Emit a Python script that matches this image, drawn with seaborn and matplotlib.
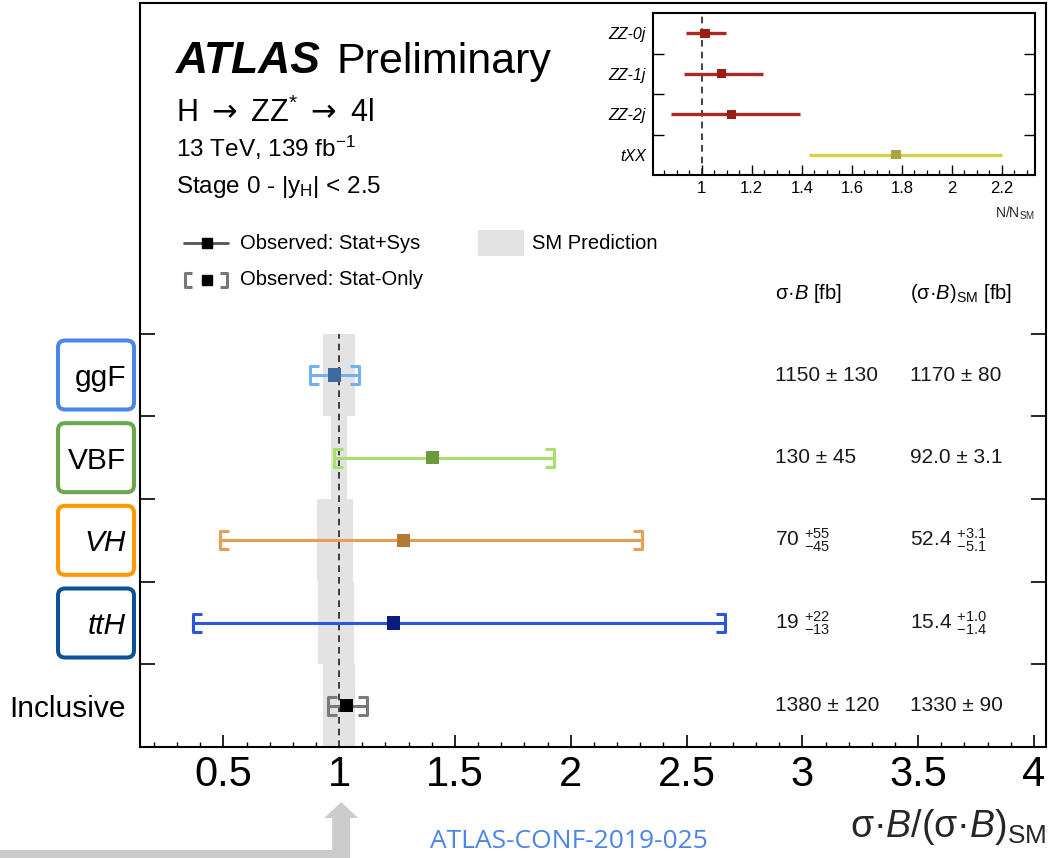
import numpy as np
import pandas as pd
import matplotlib
matplotlib.use("Agg")
import matplotlib.pyplot as plt
import seaborn as sns
from matplotlib.path import Path
from matplotlib.patches import FancyBboxPatch, Polygon, Rectangle
from matplotlib.transforms import IdentityTransform
from matplotlib.ticker import MultipleLocator, FuncFormatter

# ---------------- data ----------------
categories = ["ggF", "VBF", "VH", "ttH", "Inclusive"]
ypos = [4.5, 3.5, 2.5, 1.5, 0.5]

# measured sigma*B / (sigma*B)_SM and its uncertainties
ratio = [0.979, 1.404, 1.277, 1.234, 1.033]
tot_lo = [0.872, 0.976, 0.484, 0.369, 0.950]
tot_hi = [1.088, 1.930, 2.310, 2.670, 1.121]
stat_lo = [0.874, 0.978, 0.486, 0.371, 0.952]
stat_hi = [1.086, 1.926, 2.307, 2.666, 1.119]

# table values [fb]
obs_val = [1150, 130, 70, 19, 1380]
obs_up = [130, 45, 55, 22, 120]
obs_dn = [130, 45, 45, 13, 120]
obs_dec = [0, 0, 0, 0, 0]
sm_val = [1170, 92.0, 52.4, 15.4, 1330]
sm_up = [80, 3.1, 3.1, 1.0, 90]
sm_dn = [80, 3.1, 5.1, 1.4, 90]
sm_dec = [0, 1, 1, 1, 0]

# inset: normalisation factors
inset_cats = ["ZZ-0j", "ZZ-1j", "ZZ-2j", "tXX"]
inset_ypos = [3.5, 2.5, 1.5, 0.5]
inset_val = [1.013, 1.080, 1.120, 1.777]
inset_lo = [0.935, 0.930, 0.875, 1.430]
inset_hi = [1.097, 1.245, 1.393, 2.200]

# ---------------- style ----------------
line_colors = ["#72b0f2", "#a9e06a", "#e5a052", "#2b56e0", "#7a7a7a"]
marker_colors = ["#3d6a9c", "#6b9a3c", "#b27b33", "#0c1c7e", "#000000"]
box_colors = ["#4a86e8", "#6aa84f", "#ff9900", "#0b5394"]
inset_line_colors = ["#ad2a20", "#ad2a20", "#ad2a20", "#d8d146"]
inset_marker_colors = ["#9a1c14", "#9a1c14", "#9a1c14", "#aaa440"]

sns.set_theme(style="ticks")
plt.rcParams.update({
    "font.family": ["Liberation Sans", "DejaVu Sans"],
    "mathtext.fontset": "custom",
    "mathtext.rm": "Liberation Sans",
    "mathtext.it": "Liberation Sans:italic",
    "mathtext.bf": "Liberation Sans:bold",
    "mathtext.sf": "DejaVu Sans",
    "axes.linewidth": 1.5,
    "axes.edgecolor": "black",
    "text.color": "black",
    "xtick.color": "black",
    "ytick.color": "black",
})

W, H = 1058, 858
fig = plt.figure(figsize=(W / 100, H / 100), dpi=100)


def fx(px):
    return px / W


def fy(py):
    return 1 - py / H


ax = fig.add_axes([fx(140), fy(747), fx(1046) - fx(140), fy(3) - fy(747)])

# SM prediction bands, built from the SM cross sections in the table
sm_lo = [1 - d / v for v, d in zip(sm_val, sm_dn)]
sm_hi = [1 + u / v for v, u in zip(sm_val, sm_up)]
ax.barh(ypos, [h - l for l, h in zip(sm_lo, sm_hi)], left=sm_lo, height=1.0,
        color="#e3e3e3", linewidth=0, zorder=1)

# SM reference line
ax.plot([1, 1], [0, 5], color="#222222", lw=1.2, ls=(0, (4, 3)), zorder=2)

# total uncertainty lines
ax.hlines(ypos, tot_lo, tot_hi, colors=line_colors, lw=2.2, zorder=3)

# stat-only brackets
left_br = Path([(1, 1), (0, 1), (0, -1), (1, -1)])
right_br = Path([(-1, 1), (0, 1), (0, -1), (-1, -1)])
for y, lo, hi, c in zip(ypos, stat_lo, stat_hi, line_colors):
    ax.plot(lo, y, marker=left_br, ms=13, mew=2.2, mec=c, mfc="none", ls="none", zorder=4)
    ax.plot(hi, y, marker=right_br, ms=13, mew=2.2, mec=c, mfc="none", ls="none", zorder=4)

df = pd.DataFrame({"category": categories, "ratio": ratio, "y": ypos})
sns.scatterplot(data=df, x="ratio", y="y", hue="category",
                palette=dict(zip(categories, marker_colors)), marker="s", s=92,
                linewidth=0, legend=False, ax=ax, zorder=5)

ax.set_xlim(0.14, 4.052)
ax.set_ylim(0, 9)
ax.xaxis.set_major_locator(MultipleLocator(0.5))
ax.xaxis.set_minor_locator(MultipleLocator(0.1))
ax.xaxis.set_major_formatter(FuncFormatter(lambda v, p: f"{v:g}"))
ax.tick_params(axis="x", which="major", direction="in", length=8.5, width=1.2,
               labelsize=30, pad=6, top=False)
ax.tick_params(axis="x", which="minor", direction="in", length=3.8, width=1.0, top=False)
ax.set_yticks([1, 2, 3, 4, 5])
ax.set_yticks(ypos, minor=True)
ax.set_yticklabels(categories, minor=True)
ax.tick_params(axis="y", which="major", direction="in", length=11, width=1.2,
               left=True, right=True, labelleft=False)
ax.tick_params(axis="y", which="minor", length=0, pad=10, labelsize=21.5)
for lbl in ax.get_yticklabels(minor=True):
    if lbl.get_text() in ("VH", "ttH"):
        lbl.set_style("italic")
ax.set_ylabel("")
ax.set_xlabel(r"σ·$B$/(σ·$B)_{\mathregular{SM}}$", fontsize=27, ha="right", va="baseline")
ax.xaxis.set_label_coords(1.0, -0.121)

# header texts
ax.text(0.0397, 0.906, "ATLAS", transform=ax.transAxes, fontsize=32,
        fontweight="bold", style="italic", va="baseline")
ax.text(0.2174, 0.906, "Preliminary", transform=ax.transAxes, fontsize=31, va="baseline")
ax.text(0.0397, 0.840, r"H $\mathsf{\rightarrow}$ ZZ$^{*}$ $\mathsf{\rightarrow}$ 4l",
        transform=ax.transAxes, fontsize=22, va="baseline")
ax.text(0.0397, 0.793, r"13 TeV, 139 fb$^{\mathregular{-1}}$", transform=ax.transAxes,
        fontsize=17.5, va="baseline")
ax.text(0.0397, 0.745, r"Stage 0 - |y$_{\mathregular{H}}$| < 2.5", transform=ax.transAxes,
        fontsize=17.5, va="baseline")

# legend
ax.plot([0.0486, 0.0971], [0.677, 0.677], transform=ax.transAxes, color="#555555", lw=2)
ax.plot([0.0740], [0.677], transform=ax.transAxes, marker="s", ms=7.5, color="black", ls="none")
ax.text(0.110, 0.677, "Observed: Stat+Sys", transform=ax.transAxes, fontsize=14.5, va="center")
ax.plot([0.0497], [0.628], transform=ax.transAxes, marker=left_br, ms=10, mew=2.2,
        mec="#777777", mfc="none", ls="none")
ax.plot([0.0960], [0.628], transform=ax.transAxes, marker=right_br, ms=10, mew=2.2,
        mec="#777777", mfc="none", ls="none")
ax.plot([0.0740], [0.628], transform=ax.transAxes, marker="s", ms=7.5, color="black", ls="none")
ax.text(0.110, 0.628, "Observed: Stat-Only", transform=ax.transAxes, fontsize=14.5, va="center")
ax.add_patch(Rectangle((0.373, 0.660), 0.051, 0.035, transform=ax.transAxes,
                       color="#e3e3e3", lw=0))
ax.text(0.433, 0.677, "SM Prediction", transform=ax.transAxes, fontsize=14.5, va="center")


# cross-section table
def fmt(v, up, dn, d):
    if up == dn:
        return f"{v:.{d}f} ± {up:.{d}f}"
    return f"{v:.{d}f}" + r" $\mathregular{{}^{+%s}_{-%s}}$" % (f"{up:.{d}f}", f"{dn:.{d}f}")


ax.text(0.701, 0.610, r"σ·$B$ [fb]", transform=ax.transAxes, fontsize=14.5, va="center")
ax.text(0.850, 0.610, r"(σ·$B)_{\mathregular{SM}}$ [fb]", transform=ax.transAxes,
        fontsize=14.5, va="center")
for i, y in enumerate(ypos):
    ax.text(0.701, y, fmt(obs_val[i], obs_up[i], obs_dn[i], obs_dec[i]),
            transform=ax.get_yaxis_transform(), fontsize=15, va="center", color="#1a1a1a")
    ax.text(0.850, y, fmt(sm_val[i], sm_up[i], sm_dn[i], sm_dec[i]),
            transform=ax.get_yaxis_transform(), fontsize=15, va="center", color="#1a1a1a")

# ---------------- inset ----------------
ax_in = fig.add_axes([fx(653), fy(175), fx(1035) - fx(653), fy(13) - fy(175)])
ax_in.axvline(1, color="#222222", lw=1.2, ls=(0, (4, 3)), zorder=1)
ax_in.hlines(inset_ypos, inset_lo, inset_hi, colors=inset_line_colors, lw=2.4, zorder=2)
dfi = pd.DataFrame({"cat": inset_cats, "val": inset_val, "y": inset_ypos})
sns.scatterplot(data=dfi, x="val", y="y", hue="cat",
                palette=dict(zip(inset_cats, inset_marker_colors)), marker="s", s=45,
                linewidth=0, legend=False, ax=ax_in, zorder=3)
ax_in.set_xlim(0.805, 2.333)
ax_in.set_ylim(0, 4)
ax_in.xaxis.set_major_locator(MultipleLocator(0.2))
ax_in.xaxis.set_minor_locator(MultipleLocator(0.05))
ax_in.xaxis.set_major_formatter(FuncFormatter(lambda v, p: f"{v:g}"))
ax_in.tick_params(axis="x", which="major", direction="in", length=7, width=1.0,
                  labelsize=12, pad=4)
ax_in.tick_params(axis="x", which="minor", direction="in", length=3.5, width=0.9)
ax_in.set_yticks([1, 2, 3])
ax_in.set_yticks(inset_ypos, minor=True)
ax_in.set_yticklabels(inset_cats, minor=True)
ax_in.tick_params(axis="y", which="major", direction="in", length=8, width=1.0,
                  left=True, right=True, labelleft=False)
ax_in.tick_params(axis="y", which="minor", length=0, pad=5, labelsize=11.5)
for lbl in ax_in.get_yticklabels(minor=True):
    lbl.set_style("italic")
ax_in.set_ylabel("")
ax_in.set_xlabel(r"$\mathregular{N/N_{SM}}$", fontsize=10, ha="right", va="top")
ax_in.xaxis.set_label_coords(1.0, -0.185)
for s in ax_in.spines.values():
    s.set_linewidth(1.5)

# ---------------- figure decorations ----------------
fig.canvas.draw()
for y, c in zip(ypos[:4], box_colors):
    yd = ax.transData.transform((1.0, y))[1]
    r = 7
    box = FancyBboxPatch((58 + r, yd - 34.5 + r), 76 - 2 * r, 69 - 2 * r,
                         boxstyle=f"round,pad={r}", transform=IdentityTransform(),
                         fc="none", ec=c, lw=2.9)
    fig.add_artist(box)

# arrow pointing at the SM value
c = ax.transData.transform((1.0, 0))[0] + 2
pts_img = [(0, 850), (c - 9, 850), (c - 9, 818), (c - 17, 818), (c, 802),
           (c + 17, 818), (c + 9, 818), (c + 9, 870), (0, 870)]
arrow = Polygon([(x, H - y) for x, y in pts_img], closed=True, fc="#cccccc", ec="none",
                transform=IdentityTransform())
fig.add_artist(arrow)

fig.text(fx(430), (H - 848) / H, "ATLAS-CONF-2019-025", color="#4a86e8", fontsize=19,
         family="Open Sans", va="baseline")

fig.savefig("out.png", dpi=100)
